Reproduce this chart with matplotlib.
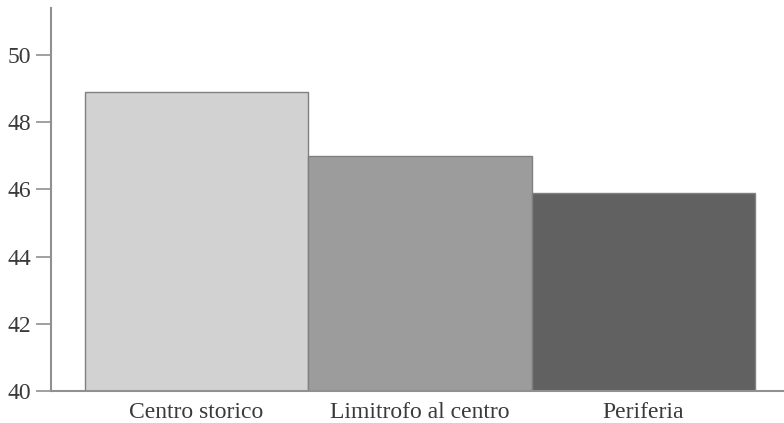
import matplotlib
matplotlib.use("Agg")
import matplotlib.pyplot as plt

# data
categories = ["Centro storico", "Limitrofo al centro", "Periferia"]
values = [48.9, 47.0, 45.9]
colors = ["#d2d2d2", "#9c9c9c", "#616161"]
yticks = [40, 42, 44, 46, 48, 50]

plt.rcParams['font.family'] = ['Liberation Serif', 'DejaVu Serif']

fig = plt.figure(figsize=(7.84, 4.23), dpi=100)
ax = fig.add_axes([0.065, 0.0757, 0.935, 0.905])

x = list(range(len(categories)))
ax.bar(x, [v - 40 for v in values], bottom=40, width=1.0, color=colors,
       edgecolor="#808080", linewidth=1.0)

ax.set_xlim(-0.652, 2.63)
ax.set_ylim(40, 51.4)
ax.set_yticks(yticks)
ax.set_xticks(x)
ax.set_xticklabels(categories)

for s in ["top", "right"]:
    ax.spines[s].set_visible(False)
for s in ["left", "bottom"]:
    ax.spines[s].set_color("#909090")
    ax.spines[s].set_linewidth(1.5)

ax.tick_params(axis="y", length=11, width=1.2, color="#909090",
               labelsize=17, labelcolor="#3a3a3a", pad=3.5)
ax.tick_params(axis="x", length=0, labelsize=17, labelcolor="#3a3a3a", pad=8)

fig.savefig("out.png", dpi=100)
